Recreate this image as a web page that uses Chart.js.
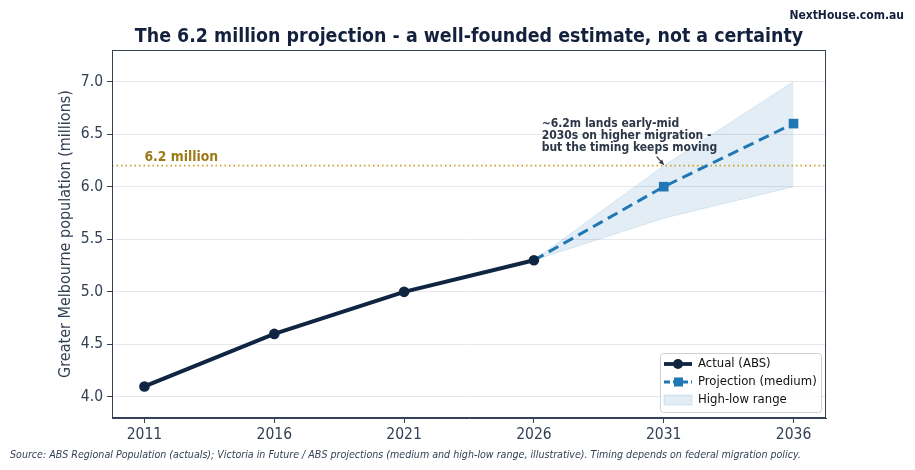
<!DOCTYPE html>
<html lang="en">
<head>
    <meta charset="UTF-8">
    <title>Melbourne 6.2 million projection</title>
    <script src="https://cdn.jsdelivr.net/npm/chart.js"></script>
    <style>
        body { margin: 0; background: #ffffff; }
        #wrap { width: 915px; height: 470px; }
    </style>
</head>
<body>
    <div id="wrap"><canvas id="chart" width="915" height="470"></canvas></div>
    <script>
        // data
        const actualYears = [2011, 2016, 2021, 2026];
        const actualValues = [4.1, 4.6, 5.0, 5.3];
        const projYears = [2026, 2031, 2036];
        const projValues = [5.3, 6.0, 6.6];
        const rangeLow = [5.3, 5.7, 6.0];
        const rangeHigh = [5.3, 6.2, 7.0];
        const targetValue = 6.2;
        const xTicks = [2011, 2016, 2021, 2026, 2031, 2036];
        const yTicks = [4.0, 4.5, 5.0, 5.5, 6.0, 6.5, 7.0];

        const xMin = 2009.75, xMax = 2037.25;
        const navy = '#0f2541';
        const blue = '#1f77b4';
        const gold = '#c9a227';
        const slate = '#334155';
        const FONT = '"DejaVu Sans Condensed", "DejaVu Sans", sans-serif';

        const pts = (xs, ys) => xs.map((x, i) => ({ x: x, y: ys[i] }));

        // titles, annotation, frame and legend
        const extras = {
            id: 'extras',
            afterDraw(chart) {
                const ctx = chart.ctx;
                const a = chart.chartArea;
                const ys = chart.scales.y, xs = chart.scales.x;
                ctx.save();

                // frame on all four sides
                ctx.strokeStyle = slate;
                ctx.lineWidth = 1;
                ctx.strokeRect(a.left + 0.5, a.top + 0.5, a.right - a.left - 1, a.bottom - a.top - 1);

                // title
                ctx.fillStyle = '#14213d';
                ctx.font = 'bold 19.4px ' + FONT;
                ctx.textAlign = 'center';
                ctx.textBaseline = 'alphabetic';
                ctx.fillText('The 6.2 million projection - a well-founded estimate, not a certainty', 469, 42);

                // watermark
                ctx.font = 'bold 12px ' + FONT;
                ctx.textAlign = 'right';
                ctx.fillText('NextHouse.com.au', 904, 19);

                // y axis title
                ctx.save();
                ctx.translate(70, (a.top + a.bottom) / 2);
                ctx.rotate(-Math.PI / 2);
                ctx.textAlign = 'center';
                ctx.fillStyle = slate;
                ctx.font = '16px ' + FONT;
                ctx.fillText('Greater Melbourne population (millions)', 0, 0);
                ctx.restore();

                // source line
                ctx.font = 'italic 10.6px ' + FONT;
                ctx.textAlign = 'left';
                ctx.fillStyle = slate;
                ctx.fillText('Source: ABS Regional Population (actuals); Victoria in Future / ABS projections (medium and high-low range, illustrative). Timing depends on federal migration policy.', 10, 458);

                // 6.2 million label
                ctx.font = 'bold 13.8px ' + FONT;
                ctx.fillStyle = '#9c7a17';
                ctx.fillText('6.2 million', xs.getPixelForValue(2011), ys.getPixelForValue(targetValue) - 5);

                // annotation
                ctx.fillStyle = '#2d3748';
                ctx.font = 'bold 12px ' + FONT;
                const ax = xs.getPixelForValue(2026.3);
                const ay = ys.getPixelForValue(6.57);
                ['~6.2m lands early-mid', '2030s on higher migration -', 'but the timing keeps moving'].forEach((t, i) => {
                    ctx.fillText(t, ax, ay + i * 12);
                });
                // arrow
                const tx = xs.getPixelForValue(2031), ty = ys.getPixelForValue(6.21);
                const sx = tx - 7, sy = ty - 8;
                ctx.strokeStyle = '#2d3748';
                ctx.lineWidth = 1.2;
                ctx.beginPath(); ctx.moveTo(sx, sy); ctx.lineTo(tx, ty); ctx.stroke();
                ctx.beginPath();
                ctx.moveTo(tx, ty); ctx.lineTo(tx - 5, ty - 1.5); ctx.lineTo(tx - 1.5, ty - 5);
                ctx.closePath(); ctx.fillStyle = '#2d3748'; ctx.fill();

                // legend box
                const lx = 660, ly = 353, lw = 161, lh = 59;
                ctx.fillStyle = 'rgba(255,255,255,0.85)';
                ctx.strokeStyle = '#d0d0d0';
                ctx.lineWidth = 1;
                ctx.beginPath();
                ctx.roundRect(lx + 0.5, ly + 0.5, lw, lh, 3);
                ctx.fill(); ctx.stroke();
                ctx.font = '13px ' + FONT;
                ctx.textBaseline = 'middle';
                const rows = [ly + 11, ly + 29, ly + 47];
                // actual
                ctx.strokeStyle = navy; ctx.lineWidth = 3.8;
                ctx.beginPath(); ctx.moveTo(664, rows[0]); ctx.lineTo(692, rows[0]); ctx.stroke();
                ctx.fillStyle = navy;
                ctx.beginPath(); ctx.arc(678, rows[0], 5, 0, Math.PI * 2); ctx.fill();
                // projection
                ctx.strokeStyle = blue; ctx.lineWidth = 3;
                ctx.setLineDash([6, 3]);
                ctx.beginPath(); ctx.moveTo(664, rows[1]); ctx.lineTo(692, rows[1]); ctx.stroke();
                ctx.setLineDash([]);
                ctx.fillStyle = blue;
                ctx.fillRect(674, rows[1] - 4.5, 9, 9);
                // band
                ctx.fillStyle = 'rgba(31,119,180,0.13)';
                ctx.fillRect(664, rows[2] - 5, 28, 10);
                ctx.strokeStyle = 'rgba(31,119,180,0.15)'; ctx.lineWidth = 1;
                ctx.strokeRect(664, rows[2] - 5, 28, 10);
                ctx.fillStyle = '#111111';
                ctx.fillText('Actual (ABS)', 698, rows[0]);
                ctx.fillText('Projection (medium)', 698, rows[1]);
                ctx.fillText('High-low range', 698, rows[2]);
                ctx.restore();
            }
        };

        new Chart(document.getElementById('chart'), {
            type: 'line',
            data: {
                datasets: [
                    {
                        label: 'High-low range',
                        data: pts(projYears, rangeHigh),
                        borderColor: 'rgba(31,119,180,0.12)',
                        borderWidth: 1,
                        backgroundColor: 'rgba(31,119,180,0.13)',
                        pointRadius: 0,
                        fill: '+1',
                        order: 4
                    },
                    {
                        label: 'low',
                        data: pts(projYears, rangeLow),
                        borderColor: 'rgba(31,119,180,0.12)',
                        borderWidth: 1,
                        pointRadius: 0,
                        fill: false,
                        order: 4
                    },
                    {
                        label: '6.2 million',
                        data: [{ x: xMin, y: targetValue }, { x: xMax, y: targetValue }],
                        borderColor: gold,
                        borderWidth: 1.6,
                        borderDash: [1.5, 3],
                        pointRadius: 0,
                        fill: false,
                        order: 3
                    },
                    {
                        label: 'Projection (medium)',
                        data: pts(projYears, projValues),
                        borderColor: blue,
                        borderWidth: 3,
                        borderDash: [11, 6],
                        pointStyle: 'rect',
                        // the 2026 point sits under the last actual marker
                        pointRadius: c => (c.dataIndex === 0 ? 0 : 6.8),
                        pointBorderWidth: 0,
                        pointBackgroundColor: blue,
                        fill: false,
                        order: 2
                    },
                    {
                        label: 'Actual (ABS)',
                        data: pts(actualYears, actualValues),
                        borderColor: navy,
                        borderWidth: 4,
                        pointRadius: 5.3,
                        pointBorderWidth: 0,
                        pointBackgroundColor: navy,
                        fill: false,
                        order: 1
                    }
                ]
            },
            options: {
                responsive: false,
                animation: false,
                layout: { padding: { top: 50, right: 89, left: 0, bottom: 0 } },
                plugins: {
                    legend: { display: false },
                    tooltip: { enabled: false },
                    title: { display: false }
                },
                scales: {
                    x: {
                        type: 'linear',
                        min: xMin,
                        max: xMax,
                        afterBuildTicks: s => { s.ticks = xTicks.map(v => ({ value: v })); },
                        afterFit: s => { s.height = 52; },
                        ticks: {
                            color: slate,
                            font: { family: FONT, size: 15.5 },
                            padding: 3,
                            callback: v => String(v)
                        },
                        grid: { drawOnChartArea: false, tickLength: 5, tickColor: slate },
                        border: { color: slate }
                    },
                    y: {
                        min: 3.8,
                        max: 7.3,
                        afterBuildTicks: s => { s.ticks = yTicks.map(v => ({ value: v })); },
                        afterFit: s => { s.width = 112; },
                        ticks: {
                            color: slate,
                            font: { family: FONT, size: 15.5 },
                            padding: 4,
                            callback: v => v.toFixed(1)
                        },
                        grid: { color: '#e6e8ec', lineWidth: 1, tickLength: 5, tickColor: slate },
                        border: { color: slate }
                    }
                }
            },
            plugins: [extras]
        });
    </script>
</body>
</html>
